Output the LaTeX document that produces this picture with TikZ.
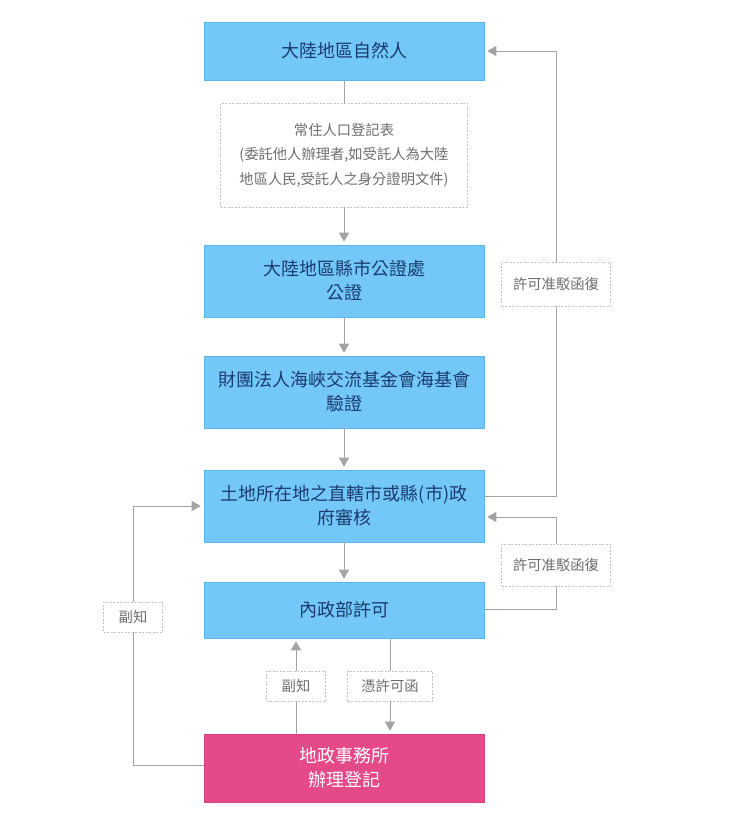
\documentclass[tikz,border=0pt]{standalone}
\usepackage{fontspec}
\setmainfont{Noto Sans CJK TC}
\usetikzlibrary{arrows.meta}
\definecolor{boxblue}{HTML}{73C8F9}
\definecolor{boxedge}{HTML}{5CB6EC}
\definecolor{navy}{HTML}{1B3B6F}
\definecolor{pinkfill}{HTML}{E5498A}
\definecolor{pinkedge}{HTML}{D93F7E}
\definecolor{linegray}{HTML}{A3A3A3}
\definecolor{notegray}{HTML}{6E6E6E}
\definecolor{dashgray}{HTML}{C4C4C4}
\tikzset{
  mainbox/.style={rectangle, fill=boxblue, draw=boxedge, line width=0.6pt,
    minimum width=280pt, align=center, text=navy,
    font=\fontsize{18}{24}\selectfont, inner sep=0pt},
  endbox/.style={mainbox, fill=pinkfill, draw=pinkedge, text=white},
  notebox/.style={rectangle, fill=white, draw=dashgray, dash pattern=on 2pt off 1.5pt,
    line width=0.6pt, align=center, text=notegray,
    font=\fontsize{14.3}{24.5}\selectfont, inner sep=0pt},
  conn/.style={draw=linegray, line width=1pt},
  arr/.style={conn, -{Triangle[length=9pt,width=10pt]}, shorten >=3pt},
}
\begin{document}
\begin{tikzpicture}[x=1pt,y=-1pt]
\useasboundingbox (0,0) rectangle (740,814);
% main boxes
\node[mainbox, minimum height=58pt] (b1) at (344,51) {大陸地區自然人};
\node[notebox, minimum width=247pt, minimum height=104pt] (n1) at (344,155)
  {常住人口登記表\\(委託他人辦理者,如受託人為大陸\\地區人民,受託人之身分證明文件)};
\node[mainbox, minimum height=72pt] (b2) at (344,281) {大陸地區縣市公證處\\公證};
\node[mainbox, minimum height=72pt] (b3) at (344,392) {財團法人海峽交流基金會海基會\\驗證};
\node[mainbox, minimum height=72pt] (b4) at (344,506) {土地所在地之直轄市或縣(市)政\\府審核};
\node[mainbox, minimum height=56pt] (b5) at (344,610) {內政部許可};
\node[endbox, minimum height=68pt] (b6) at (344,768) {地政事務所\\辦理登記};
% label boxes
\node[notebox, minimum width=109pt, minimum height=44pt] (l1) at (556,284) {許可准駁函復};
\node[notebox, minimum width=109pt, minimum height=42pt] (l2) at (556,565) {許可准駁函復};
\node[notebox, minimum width=59pt, minimum height=30pt] (l3) at (133,617) {副知};
\node[notebox, minimum width=59pt, minimum height=30pt] (l4) at (296,686) {副知};
\node[notebox, minimum width=85pt, minimum height=30pt] (l5) at (390,686) {憑許可函};
% vertical flow
\draw[conn] (b1.south) -- (n1.north);
\draw[arr] (n1.south) -- (b2.north);
\draw[arr] (b2.south) -- (b3.north);
\draw[arr] (b3.south) -- (b4.north);
\draw[arr] (b4.south) -- (b5.north);
% right loops
\draw[conn] ([yshift=10pt]b4.east) -| (l1.south);
\draw[arr] (l1.north) |- (b1.east);
\draw[conn] ([yshift=1pt]b5.east) -| (l2.south);
\draw[arr] (l2.north) |- ([yshift=-11pt]b4.east);
% left loop
\draw[conn] ([yshift=3pt]b6.west) -| (l3.south);
\draw[arr] (l3.north) |- (b4.west);
% bottom
\draw[conn] (b6.north -| l4) -- (l4.south);
\draw[arr] (l4.north) -- (b5.south -| l4);
\draw[conn] (b5.south -| l5) -- (l5.north);
\draw[arr] (l5.south) -- (b6.north -| l5);
\end{tikzpicture}
\end{document}
